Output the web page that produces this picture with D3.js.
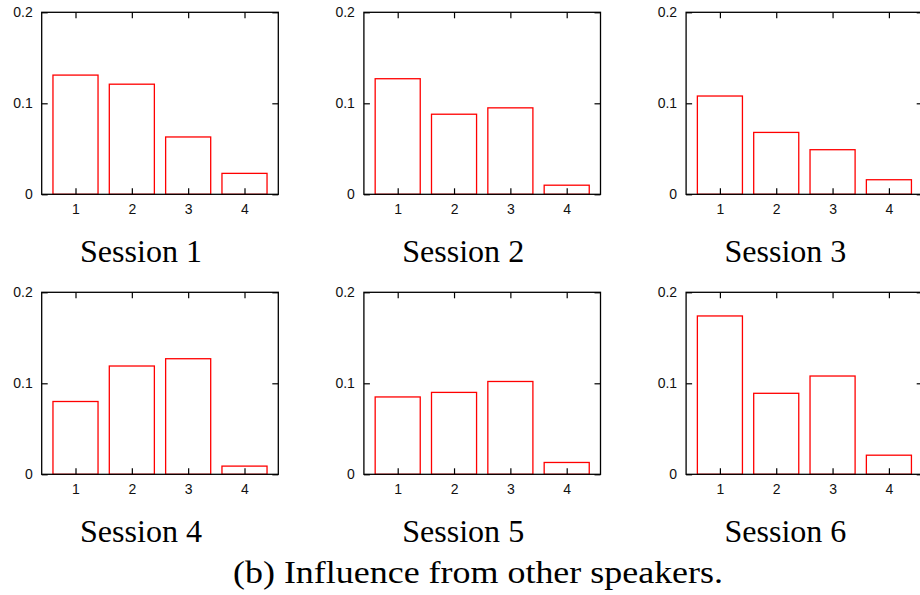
<!DOCTYPE html>
<html>
<head>
<meta charset="utf-8">
<script src="https://cdn.jsdelivr.net/npm/d3@7"></script>
<style>
  body { margin: 0; background: #fff; }
  svg { display: block; }
  .tick text { font-family: "Liberation Sans", Arial, sans-serif; font-size: 14px; fill: #111; }
  .tick line { stroke: #000; stroke-width: 1.2; }
</style>
</head>
<body>
<div id="chart"></div>
<script>
// data
var categories = [1, 2, 3, 4];
var sessions = ["Session 1", "Session 2", "Session 3", "Session 4", "Session 5", "Session 6"];
var session1 = [0.131, 0.121, 0.063, 0.023];
var session2 = [0.127, 0.088, 0.095, 0.010];
var session3 = [0.108, 0.068, 0.049, 0.016];
var session4 = [0.080, 0.119, 0.127, 0.009];
var session5 = [0.085, 0.090, 0.102, 0.013];
var session6 = [0.174, 0.089, 0.108, 0.021];
var yTicks = [0, 0.1, 0.2];
var caption = "(b) Influence from other speakers.";

var allValues = [session1, session2, session3, session4, session5, session6];
var serif = "'Liberation Serif', 'Times New Roman', 'DejaVu Serif', serif";

var W = 920, H = 595;
var pw = 236.6, ph = 182;   // plot area size
var colStep = 322.2, rowStep = 280;
var left0 = 41.7, top0 = 12.3;

var svg = d3.select("#chart").append("svg")
  .attr("width", W)
  .attr("height", H);

var x = d3.scaleLinear().domain([0.4, 4.6]).range([0, pw]);
var y = d3.scaleLinear().domain([0, 0.2]).range([ph, 0]);
var barW = x(1.4) - x(0.6);

for (var i = 0; i < 6; i++) {
  var col = i % 3, row = Math.floor(i / 3);
  var ox = left0 + col * colStep, oy = top0 + row * rowStep;
  var g = svg.append("g").attr("transform", "translate(" + ox + "," + oy + ")");
  var vals = allValues[i];

  // bars
  g.selectAll("rect.bar")
    .data(vals)
    .enter().append("rect")
      .attr("class", "bar")
      .attr("x", function(d, j) { return x(categories[j]) - barW / 2; })
      .attr("y", function(d) { return y(d); })
      .attr("width", barW)
      .attr("height", function(d) { return ph - y(d); })
      .attr("fill", "none")
      .attr("stroke", "#ff0000")
      .attr("stroke-width", 1.3);

  // axes, ticks pointing inward
  g.append("g").attr("transform", "translate(0," + ph + ")")
    .call(d3.axisBottom(x).tickValues(categories).tickSize(-6).tickPadding(10).tickFormat(d3.format("d")));
  g.append("g")
    .call(d3.axisTop(x).tickValues(categories).tickSize(-6).tickFormat(""));
  g.append("g")
    .call(d3.axisLeft(y).tickValues(yTicks).tickSize(-6).tickPadding(9).tickFormat(function(d) { return d === 0 ? "0" : d3.format(".1f")(d); }));
  g.append("g").attr("transform", "translate(" + pw + ",0)")
    .call(d3.axisRight(y).tickValues(yTicks).tickSize(-6).tickFormat(""));
  g.selectAll(".domain").remove();

  // frame
  g.append("rect")
    .attr("width", pw).attr("height", ph)
    .attr("fill", "none")
    .attr("stroke", "#000")
    .attr("stroke-width", 1.3);

  // session label
  svg.append("text")
    .attr("x", 141 + col * colStep)
    .attr("y", 262 + row * rowStep)
    .attr("text-anchor", "middle")
    .attr("textLength", 122)
    .attr("lengthAdjust", "spacingAndGlyphs")
    .style("font-family", serif)
    .style("font-size", "31px")
    .text(sessions[i]);
}

svg.append("text")
  .attr("x", 478)
  .attr("y", 583)
  .attr("text-anchor", "middle")
  .attr("textLength", 490)
  .attr("lengthAdjust", "spacingAndGlyphs")
  .style("font-family", serif)
  .style("font-size", "31px")
  .text(caption);
</script>
</body>
</html>
